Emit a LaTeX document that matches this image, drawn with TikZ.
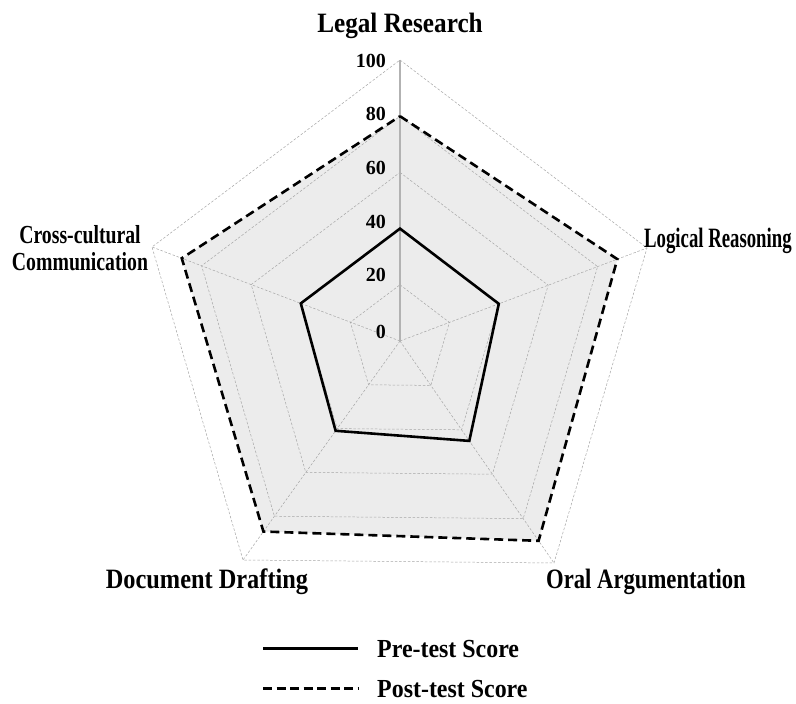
\documentclass[tikz,border=0pt]{standalone}
\usepackage{fontspec}
\setmainfont{Liberation Serif}
\usepackage{graphicx}
\usepackage{xcolor}
\usepackage{tikz}
\usetikzlibrary{calc}
\usetikzlibrary{positioning}
\tikzset{>=stealth}
\tikzset{gridline/.style={gray!70,line width=0.5pt,dash pattern=on 2.5pt off 1.8pt}}
\tikzset{prescore/.style={black,line width=2.6pt,line join=miter}}
\tikzset{postscore/.style={black,line width=2.6pt,dash pattern=on 9pt off 5pt}}
\tikzset{axislabel/.style={font=\bfseries\fontsize{28}{30}\selectfont,inner sep=0pt}}
\tikzset{ticklabel/.style={font=\bfseries\fontsize{20}{22}\selectfont,anchor=east,inner sep=0pt}}
\newcommand{\lvl}[2]{($(O)!#1!(#2)$)}
\newcommand{\squeeze}[2]{\scalebox{#1}[1]{#2}}

\begin{document}
\begin{tikzpicture}[x=1pt,y=-1pt]
        \useasboundingbox [fill=white] (0,0) rectangle (796,704);
        \coordinate (O) at (400,341);
        \coordinate (LR) at (400,60);
        \coordinate (LG) at (647,248);
        \coordinate (OA) at (554,563);
        \coordinate (DD) at (243,560);
        \coordinate (CC) at (152,247);

        % post-test area
        \fill [gray!15] \lvl{.80}{LR} -- \lvl{.88}{LG} -- \lvl{.90}{OA} -- \lvl{.87}{DD} -- \lvl{.88}{CC} -- cycle;

        % grid
        \foreach \l in {.2,.4,.6,.8,1}
            \draw [gridline] \lvl{\l}{LR} -- \lvl{\l}{LG} -- \lvl{\l}{OA} -- \lvl{\l}{DD} -- \lvl{\l}{CC} -- cycle;
        \foreach \a in {LG,OA,DD,CC}
            \draw [gridline] (O) -- (\a);
        \draw [gray!60,line width=1.2pt] (O) -- (LR);

        % scores
        \draw [prescore] \lvl{.40}{LR} -- \lvl{.40}{LG} -- \lvl{.45}{OA} -- \lvl{.41}{DD} -- \lvl{.40}{CC} -- cycle;
        \draw [postscore] \lvl{.80}{LR} -- \lvl{.88}{LG} -- \lvl{.90}{OA} -- \lvl{.87}{DD} -- \lvl{.88}{CC} -- cycle;

        % ticks
        \node [ticklabel] (t100) at (386,61) {100};
        \node [ticklabel] (t80) at (386,114) {80};
        \node [ticklabel] (t60) at (386,168) {60};
        \node [ticklabel] (t40) at (386,222) {40};
        \node [ticklabel] (t20) at (386,275) {20};
        \node [ticklabel] (t0) at (386,332) {0};

        % axis names
        \node [axislabel,anchor=base] (lr) at (400,32) {\squeeze{.90}{Legal Research}};
        \node [axislabel,anchor=base west] (lg) at (644,247) {\squeeze{.67}{Logical Reasoning}};
        \node [axislabel,font=\bfseries\fontsize{26}{27}\selectfont,anchor=base] (cc1) at (80,243) {\squeeze{.76}{Cross-cultural}};
        \node [axislabel,font=\bfseries\fontsize{26}{27}\selectfont,anchor=base] (cc2) at (80,270) {\squeeze{.76}{Communication}};
        \node [axislabel,anchor=base] (dd) at (207,588) {\squeeze{.87}{Document Drafting}};
        \node [axislabel,anchor=base] (oa) at (646,588) {\squeeze{.81}{Oral Argumentation}};

        % legend
        \node [axislabel,font=\bfseries\fontsize{26}{27}\selectfont,anchor=base west] (pre) at (377,657) {\squeeze{.92}{Pre-test Score}};
        \node [axislabel,font=\bfseries\fontsize{26}{27}\selectfont,anchor=base west] (post) at (377,697) {\squeeze{.92}{Post-test Score}};
        \coordinate [left = 19pt of pre.west] (preB);
        \coordinate [left = 95pt of preB] (preA);
        \coordinate [left = 19pt of post.west] (postB);
        \coordinate [left = 95pt of postB] (postA);
        \draw [prescore] (preA) -- (preB);
        \draw [postscore,dash pattern=on 9pt off 4.5pt] (postA) -- (postB);
    \end{tikzpicture}
\end{document}
